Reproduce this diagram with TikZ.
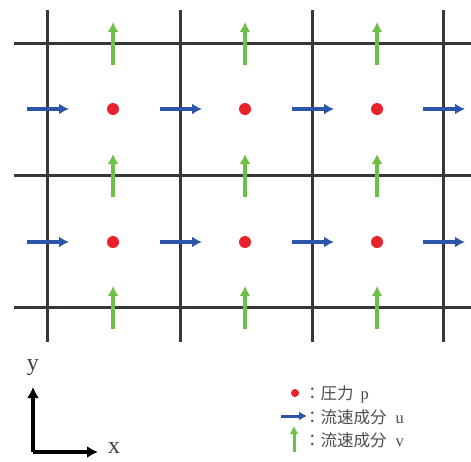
\documentclass[tikz,border=0pt]{standalone}
\usepackage{fontspec}
\newfontfamily\jpfont{Noto Sans CJK JP}
\setmainfont{Liberation Serif}
\usetikzlibrary{arrows.meta}
\definecolor{gridc}{HTML}{3A3636}
\definecolor{ublue}{HTML}{2A55A8}
\definecolor{vgreen}{HTML}{6CC043}
\definecolor{pred}{HTML}{E8212B}
\tikzset{
  gridline/.style={gridc, line width=3pt},
  uarrow/.style={ublue, line width=3.6pt, -{Latex[length=10pt,width=11pt]}},
  varrow/.style={vgreen, line width=3.6pt, -{Latex[length=10pt,width=11pt]}},
  pdot/.style={circle, fill=pred, inner sep=0pt, minimum size=12pt},
  axisarrow/.style={black, line width=3.6pt, -{Latex[length=11pt,width=12pt]}},
  legtext/.style={anchor=west, inner sep=0pt, font=\fontsize{16.5}{18}\selectfont, text=black!70},
}
\begin{document}
\begin{tikzpicture}[x=1pt,y=-1pt]
\useasboundingbox (0,0) rectangle (471,461);
% grid
\foreach \gx in {47,180,312,443} \draw[gridline] (\gx,10) -- (\gx,342);
\foreach \gy in {43,175,307} \draw[gridline] (14,\gy) -- (471,\gy);
% u arrows
\foreach \gy in {109,242} \foreach \gx in {47,180,312,443}
  \draw[uarrow] (\gx-20,\gy) -- (\gx+22,\gy);
% v arrows
\foreach \gy in {43,175,307} \foreach \gx in {113,245,377}
  \draw[varrow] (\gx,\gy+22) -- (\gx,\gy-21);
% pressure
\foreach \gy in {109,242} \foreach \gx in {113,245,377}
  \node[pdot] at (\gx,\gy) {};
% axes
\coordinate (O) at (33,452);
\coordinate (Ytip) at (33,387);
\coordinate (Xtip) at (98,452);
\draw[axisarrow] (O) -- (Ytip);
\draw[axisarrow] (O) -- (Xtip);
\node[font=\fontsize{24}{24}\selectfont, text=black!75] (ylab) at (33,368) {y};
\node[font=\fontsize{24}{24}\selectfont, text=black!75] (xlab) at (114,448) {x};
% legend
\node[pdot, minimum size=8pt] (lp) at (295,393) {};
\coordinate (lu1) at (281,416);
\coordinate (lu2) at (307,416);
\draw[uarrow, line width=3pt, -{Latex[length=8pt,width=9pt]}] (lu1) -- (lu2);
\coordinate (lv1) at (294,452);
\coordinate (lv2) at (294,426);
\draw[varrow, line width=3pt, -{Latex[length=8pt,width=9pt]}] (lv1) -- (lv2);
\node[legtext] (t1) at (304,394) {{\jpfont ：圧力}\hspace{7pt}p};
\node[legtext] (t2) at (304,417) {{\jpfont ：流速成分}\hspace{9pt}u};
\node[legtext] (t3) at (304,440) {{\jpfont ：流速成分}\hspace{9pt}v};
\end{tikzpicture}
\end{document}
